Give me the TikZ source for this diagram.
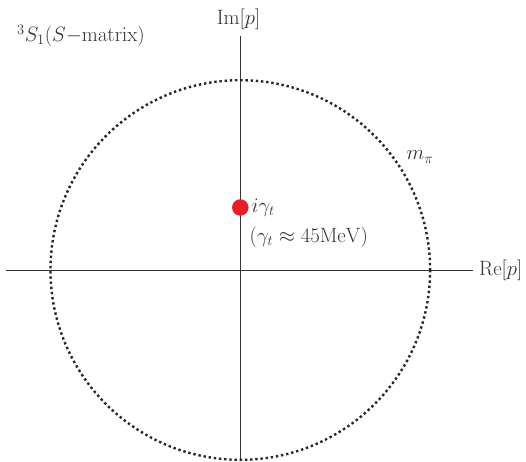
\documentclass[tikz,border=0pt]{standalone}
\usepackage{xcolor}
\definecolor{polered}{RGB}{232,30,40}
\begin{document}
\begin{tikzpicture}[x=1pt,y=-1pt,
  axis/.style={line width=0.9pt,draw=black!80},
  lbl/.style={inner sep=0pt,font=\fontsize{22}{26}\selectfont,text=black!80},
  cutcircle/.style={line width=2.4pt,dash pattern=on 2.4pt off 2.8pt,draw=black!85}]
\useasboundingbox (0,0) rectangle (526,461);
\coordinate (O) at (240.3,270);
\coordinate (xl) at (6,270);
\coordinate (xr) at (473,270);
\coordinate (yt) at (240.3,36);
\coordinate (yb) at (240.3,461);
\draw[axis] (xl) -- (xr);
\draw[axis] (yt) -- (yb);
\draw[cutcircle] (O) circle (189.8);
\node[circle,fill=polered,minimum size=16.5pt,inner sep=0pt] (pole) at (240.3,207.5) {};
\node[lbl,anchor=west] (poleL) at (251.5,208) {$i\gamma_t$};
\node[lbl,anchor=west] (gam) at (249.5,237.5) {$(\gamma_t\approx 45\mathrm{MeV})$};
\node[lbl] (mpi) at (420,157) {$m_\pi$};
\node[lbl,anchor=west] (re) at (479,270) {$\mathrm{Re}[p]$};
\node[lbl] (im) at (238.5,19.5) {$\mathrm{Im}[p]$};
\node[lbl,anchor=west] (title) at (17,36) {$^3S_1(S{-}\mathrm{matrix})$};
\end{tikzpicture}
\end{document}
